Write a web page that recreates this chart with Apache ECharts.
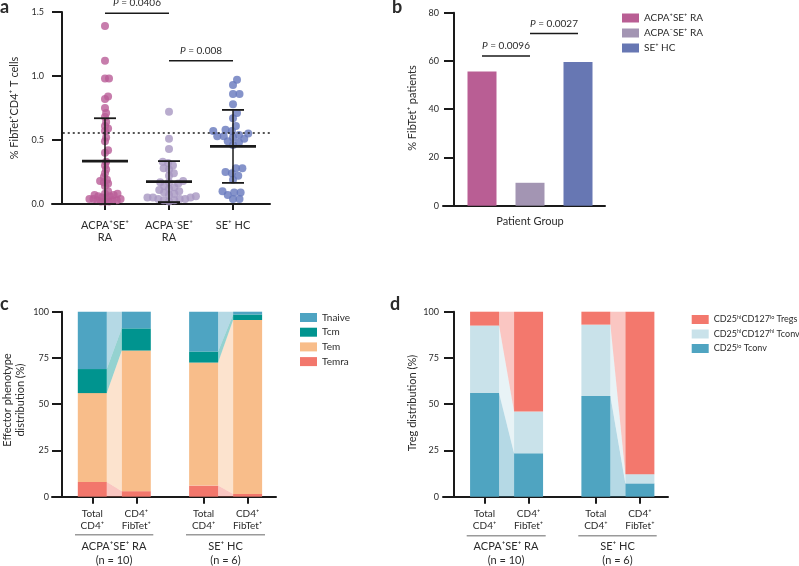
<!DOCTYPE html>
<html>
<head>
<meta charset="utf-8">
<script src="https://cdn.jsdelivr.net/npm/echarts@6/dist/echarts.min.js"></script>
<style>
  html, body { margin: 0; padding: 0; background: #fff; }
  #chart { width: 799px; height: 566px; }
</style>
</head>
<body>
<div id="chart"></div>
<script>
// ---- panel a: % FibTet+CD4+ T cells per donor
const groupsA = ['ACPA⁺SE⁺\nRA', 'ACPA⁻SE⁺\nRA', 'SE⁺ HC']
const freqRaPos = [1.39, 1.12, 0.98, 0.98, 0.84, 0.82, 0.75, 0.71, 0.68, 0.64, 0.61, 0.59, 0.57, 0.52, 0.49,
  0.42, 0.40, 0.33, 0.30, 0.27, 0.24, 0.21, 0.19, 0.18, 0.17, 0.16, 0.14, 0.10, 0.08, 0.08,
  0.07, 0.07, 0.06, 0.06, 0.05, 0.05, 0.04, 0.04, 0.04, 0.03, 0.03, 0.03, 0.02, 0.02, 0.02]
const freqRaNeg = [0.72, 0.51, 0.43, 0.33, 0.32, 0.30, 0.28, 0.27, 0.24, 0.22, 0.18, 0.17, 0.17, 0.16, 0.14, 0.13,
  0.12, 0.11, 0.10, 0.09, 0.08, 0.07, 0.06, 0.05, 0.05, 0.05, 0.04, 0.04, 0.04, 0.03, 0.03, 0.02]
const freqHc = [0.97, 0.93, 0.86, 0.86, 0.78, 0.71, 0.67, 0.61, 0.58, 0.57, 0.57, 0.55, 0.54, 0.53, 0.53, 0.52,
  0.51, 0.49, 0.48, 0.46, 0.28, 0.28, 0.25, 0.24, 0.22, 0.19, 0.10, 0.09, 0.09, 0.07, 0.04, 0.04]
const meanA = [0.335, 0.175, 0.45]
const sdTopA = [0.67, 0.335, 0.735]
const sdBotA = [0, 0.015, 0.165]
const cutoffA = 0.555
const pValsA = ['0.0406', '0.008']

// ---- panel b: % FibTet+ patients
const groupsB = ['ACPA⁺SE⁺ RA', 'ACPA⁻SE⁺ RA', 'SE⁺ HC']
const pctB = [55.6, 9.5, 59.6]
const pValsB = ['0.0096', '0.0027']

// ---- panels c / d: stacked distributions
const barLabels = ['Total\nCD4⁺', 'CD4⁺\nFibTet⁺', 'Total\nCD4⁺', 'CD4⁺\nFibTet⁺']
const cohorts = ['ACPA⁺SE⁺ RA', 'SE⁺ HC']
const cohortN = ['(n = 10)', '(n = 6)']
const tnaive = [31, 9, 21.5, 1.5]
const tcm = [13, 12, 6, 3]
const tem = [48, 76, 66.5, 94]
const temra = [8, 3, 6, 1.5]
const tregs = [7.5, 54, 7, 87.8]
const tconvHi = [36.5, 22.5, 38.5, 5]
const tconvLo = [56, 23.5, 54.5, 7.2]

// ---- layout / style
const FONT = 'Lato, "Noto Sans", sans-serif'
const INK = '#1a1a1a'
const TXT = '#2b2b2b'
const BAR_W = 29
const barPos = [1, 2, 3.53, 4.53]
const dotColors = ['#b95c97', '#a797c2', '#6778bd']
const barColorsB = ['#b95e94', '#a395b3', '#6777b3']
const colorsC = { Tnaive: '#4ea4c2', Tcm: '#00948f', Tem: '#f8bd8a', Temra: '#f2776c' }
const colorsD = { Tregs: '#f3786d', TconvHi: '#c9e2ea', TconvLo: '#4fa4c1' }
const bracketsA = [{ from: 1, to: 2, y: 1.49, p: pValsA[0] }, { from: 2, to: 3, y: 1.12, p: pValsA[1] }]
const bracketsB = [{ from: 1, to: 2, y: 62.1, p: pValsB[0] }, { from: 2, to: 3, y: 71.4, p: pValsB[1] }]

// simple beeswarm in pixel space (128 px per unit on y, 64 px per unit on x)
function swarm(vals, base, D) {
  const pxY = 128, pxX = 64
  const placed = []
  const order = vals.map((v, i) => i).sort((a, b) => vals[a] - vals[b])
  return order.map((i) => {
    const y = vals[i] * pxY
    const cands = [0]
    placed.forEach((p) => {
      const dy = y - p.y
      if (Math.abs(dy) < D) {
        const dx = Math.sqrt(D * D - dy * dy)
        cands.push(p.x + dx, p.x - dx)
      }
    })
    cands.sort((a, b) => Math.abs(a) - Math.abs(b))
    const x = cands.find(c => placed.every(p => (p.x - c) ** 2 + (p.y - y) ** 2 >= D * D - 1e-6)) || 0
    placed.push({ x, y })
    return [base + x / pxX, vals[i]]
  })
}

// cumulative [lo, hi] per layer, layers given bottom -> top
function stackLayers(layers) {
  const acc = barPos.map(() => 0)
  return layers.map(vals => vals.map((v, i) => {
    const lo = acc[i]
    acc[i] += v
    return [lo, acc[i]]
  }))
}

function stackSeries(names, layers, colors, idx) {
  const st = stackLayers(layers)
  const bars = names.map((name, k) => ({
    type: 'custom',
    name,
    xAxisIndex: idx,
    yAxisIndex: idx,
    itemStyle: { color: colors[name] },
    data: barPos.map((x, i) => [x, st[k][i][0], st[k][i][1]]),
    renderItem: (params, api) => {
      const p0 = api.coord([api.value(0), api.value(1)])
      const p1 = api.coord([api.value(0), api.value(2)])
      return {
        type: 'rect',
        shape: { x: p0[0] - BAR_W / 2, y: p1[1], width: BAR_W, height: p0[1] - p1[1] },
        style: { fill: api.visual('color') },
      }
    },
    z: 3,
  }))
  const links = []
  ;[[0, 1], [2, 3]].forEach(([a, b]) => {
    names.forEach((name, k) => {
      links.push([barPos[a], barPos[b], st[k][a][0], st[k][a][1], st[k][b][0], st[k][b][1], k])
    })
  })
  const linkSeries = {
    type: 'custom',
    xAxisIndex: idx,
    yAxisIndex: idx,
    silent: true,
    data: links,
    renderItem: (params, api) => {
      const xa = api.value(0), xb = api.value(1)
      const a0 = api.coord([xa, api.value(2)]), a1 = api.coord([xa, api.value(3)])
      const b0 = api.coord([xb, api.value(4)]), b1 = api.coord([xb, api.value(5)])
      const h = BAR_W / 2
      return {
        type: 'polygon',
        shape: { points: [[a0[0] + h, a0[1]], [a1[0] + h, a1[1]], [b1[0] - h, b1[1]], [b0[0] - h, b0[1]]] },
        style: { fill: colors[names[api.value(6)]], opacity: 0.42 },
      }
    },
    z: 2,
  }
  return [linkSeries, ...bars]
}

function bracketSeries(list, idx) {
  return {
    type: 'custom',
    xAxisIndex: idx,
    yAxisIndex: idx,
    silent: true,
    data: list.map(b => [b.from, b.to, b.y]),
    renderItem: (params, api) => {
      const a = api.coord([api.value(0), api.value(2)])
      const b = api.coord([api.value(1), api.value(2)])
      return {
        type: 'group',
        children: [
          { type: 'line', shape: { x1: a[0], y1: a[1], x2: b[0], y2: b[1] }, style: { stroke: INK, lineWidth: 1.5 } },
          {
            type: 'text',
            x: (a[0] + b[0]) / 2,
            y: a[1] - 10,
            style: {
              text: '{i|P} = ' + list[params.dataIndex].p,
              font: '10px ' + FONT,
              fill: TXT,
              align: 'center',
              verticalAlign: 'middle',
              rich: { i: { fontStyle: 'italic', fontSize: 10, fontFamily: FONT, fill: TXT } },
            },
          },
        ],
      }
    },
    z: 5,
  }
}

function errorSeries() {
  const line = (x1, y1, x2, y2, w) => ({ type: 'line', shape: { x1, y1, x2, y2 }, style: { stroke: INK, lineWidth: w } })
  return {
    type: 'custom',
    xAxisIndex: 0,
    yAxisIndex: 0,
    silent: true,
    data: meanA.map((m, i) => [i + 1, m, sdTopA[i], sdBotA[i]]),
    renderItem: (params, api) => {
      const x = api.value(0)
      const m = api.coord([x, api.value(1)])
      const hi = api.coord([x, api.value(2)])
      const lo = api.coord([x, api.value(3)])
      return {
        type: 'group',
        children: [
          line(m[0], hi[1], m[0], lo[1], 1.5),
          line(m[0] - 11, hi[1], m[0] + 11, hi[1], 1.8),
          line(m[0] - 11, lo[1], m[0] + 11, lo[1], 1.8),
          line(m[0] - 23, m[1], m[0] + 23, m[1], 2.8),
        ],
      }
    },
    z: 6,
  }
}

const axisBase = {
  axisLine: { show: true, onZero: false, lineStyle: { color: INK, width: 2 } },
  axisTick: { show: true, length: 10, lineStyle: { color: INK, width: 2 } },
  splitLine: { show: false },
}
const yLabel = margin => ({ color: TXT, fontSize: 9, fontFamily: FONT, margin })

const tickFmt = (list, pos) => v => list[pos.findIndex(p => Math.abs(p - v) < 1e-6)] || ''

const gridBase = { containLabel: false, outerBoundsMode: 'none' }

const rotText = (x, y, text, extra) => ({
  type: 'text', x, y, rotation: Math.PI / 2, silent: true,
  style: Object.assign({ text, font: '11px ' + FONT, fill: TXT, align: 'center', verticalAlign: 'middle', textAlign: 'center', textVerticalAlign: 'middle' }, extra || {}),
})
const text = (x, y, t, font, align) => ({
  type: 'text', x, y, silent: true,
  style: { text: t, font: font || ('11px ' + FONT), fill: TXT, align: align || 'center', verticalAlign: 'middle', textAlign: align || 'center', textVerticalAlign: 'middle' },
})
const hline = (x1, x2, y) => ({ type: 'line', silent: true, shape: { x1, y1: y, x2, y2: y }, style: { stroke: '#9a9a9a', lineWidth: 1.5 } })

const tregLegend = {
  Tregs: '{n|CD25}{s|hi}{n|CD127}{s|lo}{n| Tregs}',
  TconvHi: '{n|CD25}{s|hi}{n|CD127}{s|hi}{n| Tconv}',
  TconvLo: '{n|CD25}{s|lo}{n| Tconv}',
}

const legendBase = {
  orient: 'vertical', itemWidth: 17, itemHeight: 9, icon: 'rect', padding: 0, selectedMode: false,
  textStyle: { fontSize: 10, lineHeight: 11, color: TXT, fontFamily: FONT },
}

const chart = echarts.init(document.getElementById('chart'), null, { renderer: 'canvas' })

const option = {
  animation: false,
  backgroundColor: '#fff',
  textStyle: { fontFamily: FONT },
  grid: [
    Object.assign({ left: 52, top: 12, width: 218, height: 192 }, gridBase),
    Object.assign({ left: 443, top: 12.7, width: 162, height: 193 }, gridBase),
    Object.assign({ left: 52, top: 311.7, width: 224, height: 185 }, gridBase),
    Object.assign({ left: 443, top: 311.7, width: 225, height: 185 }, gridBase),
  ],
  xAxis: [
    Object.assign({}, axisBase, {
      gridIndex: 0, type: 'value', min: 0.172, max: 3.578,
      axisTick: { show: true, length: 6, customValues: [1, 2, 3], lineStyle: { color: INK, width: 2 } },
      axisLabel: { customValues: [1, 2, 3], formatter: tickFmt(groupsA, [1, 2, 3]), color: TXT, fontSize: 11, lineHeight: 12, margin: 15, fontFamily: FONT },
    }),
    Object.assign({}, axisBase, {
      gridIndex: 1, type: 'value', min: 0.1875, max: 3.5625,
      axisTick: { show: false }, axisLabel: { show: false },
    }),
    Object.assign({}, axisBase, {
      gridIndex: 2, type: 'value', min: 0.084, max: 5.175,
      axisTick: { show: true, length: 7, customValues: barPos, lineStyle: { color: INK, width: 2 } },
      axisLabel: { customValues: barPos, formatter: tickFmt(barLabels, barPos), color: TXT, fontSize: 10, lineHeight: 11.5, margin: 11.5, fontFamily: FONT },
    }),
    Object.assign({}, axisBase, {
      gridIndex: 3, type: 'value', min: 0.055, max: 5.169,
      axisTick: { show: true, length: 7, customValues: barPos, lineStyle: { color: INK, width: 2 } },
      axisLabel: { customValues: barPos, formatter: tickFmt(barLabels, barPos), color: TXT, fontSize: 10, lineHeight: 11.5, margin: 11.5, fontFamily: FONT },
    }),
  ],
  yAxis: [
    Object.assign({}, axisBase, { gridIndex: 0, type: 'value', min: 0, max: 1.5, interval: 0.5, offset: -10, axisLabel: Object.assign(yLabel(18), { formatter: v => v.toFixed(1) }) }),
    Object.assign({}, axisBase, { gridIndex: 1, type: 'value', min: 0, max: 80, interval: 20, offset: -11, axisLabel: yLabel(15) }),
    Object.assign({}, axisBase, { gridIndex: 2, type: 'value', min: 0, max: 100, interval: 25, offset: -10, axisLabel: yLabel(13) }),
    Object.assign({}, axisBase, { gridIndex: 3, type: 'value', min: 0, max: 100, interval: 25, offset: -11, axisLabel: yLabel(15) }),
  ],
  legend: [
    Object.assign({}, legendBase, { data: groupsB, left: 622, top: 12.5, itemGap: 4 }),
    Object.assign({}, legendBase, { data: ['Tnaive', 'Tcm', 'Tem', 'Temra'], left: 300, top: 312, itemGap: 3.7 }),
    Object.assign({}, legendBase, {
      data: ['Tregs', 'TconvHi', 'TconvLo'], left: 691.7, top: 314, itemGap: 3.5,
      formatter: name => tregLegend[name],
      textStyle: {
        color: TXT, fontFamily: FONT, fontSize: 9, lineHeight: 11,
        rich: {
          n: { fontSize: 9, lineHeight: 11, color: TXT, fontFamily: FONT },
          s: { fontSize: 5.5, lineHeight: 7, color: TXT, fontFamily: FONT, verticalAlign: 'top' },
        },
      },
    }),
  ],
  series: [
    {
      type: 'scatter', xAxisIndex: 0, yAxisIndex: 0, symbolSize: 8, silent: true,
      itemStyle: { color: dotColors[0] },
      data: swarm(freqRaPos, 1, 4),
      markLine: {
        silent: true, symbol: 'none', label: { show: false },
        lineStyle: { color: INK, type: [2, 3], width: 1.6 },
        data: [[{ coord: [0.34, cutoffA] }, { coord: [3.578, cutoffA] }]],
      },
      z: 4,
    },
    { type: 'scatter', xAxisIndex: 0, yAxisIndex: 0, symbolSize: 8, silent: true, itemStyle: { color: dotColors[1] }, data: swarm(freqRaNeg, 2, 5.5), z: 4 },
    { type: 'scatter', xAxisIndex: 0, yAxisIndex: 0, symbolSize: 8, silent: true, itemStyle: { color: dotColors[2] }, data: swarm(freqHc, 3, 6.5), z: 4 },
    errorSeries(),
    bracketSeries(bracketsA, 0),
    ...groupsB.map((name, i) => ({
      type: 'bar', name, xAxisIndex: 1, yAxisIndex: 1, barWidth: BAR_W, barGap: '-100%', silent: true,
      itemStyle: { color: barColorsB[i] },
      data: [[i + 1, pctB[i]]],
    })),
    bracketSeries(bracketsB, 1),
    ...stackSeries(['Temra', 'Tem', 'Tcm', 'Tnaive'], [temra, tem, tcm, tnaive], colorsC, 2),
    ...stackSeries(['TconvLo', 'TconvHi', 'Tregs'], [tconvLo, tconvHi, tregs], colorsD, 3),
  ],
  graphic: [
    text(0, 7.5, 'a', 'bold 18px ' + FONT, 'left'),
    text(392, 7.5, 'b', 'bold 18px ' + FONT, 'left'),
    text(0, 304, 'c', 'bold 18px ' + FONT, 'left'),
    text(390, 304, 'd', 'bold 18px ' + FONT, 'left'),
    rotText(14, 108, '% FibTet⁺CD4⁺ T cells'),
    rotText(412, 108, '% FibTet⁺ patients'),
    text(530, 221, 'Patient Group'),
    rotText(13.5, 400, 'Effector phenotype\ndistribution (%)', { lineHeight: 13 }),
    rotText(412, 403, 'Treg distribution (%)'),
    hline(75, 153.3, 534.7), hline(186, 265, 534.7),
    hline(466.7, 545.7, 535.7), hline(578.3, 656.7, 535.7),
    text(114, 546, cohorts[0]), text(114, 560, cohortN[0]),
    text(225.5, 546, cohorts[1]), text(225.5, 560, cohortN[1]),
    text(506, 546, cohorts[0]), text(506, 560, cohortN[0]),
    text(617.5, 546, cohorts[1]), text(617.5, 560, cohortN[1]),
  ],
}

chart.setOption(option)
</script>
</body>
</html>
